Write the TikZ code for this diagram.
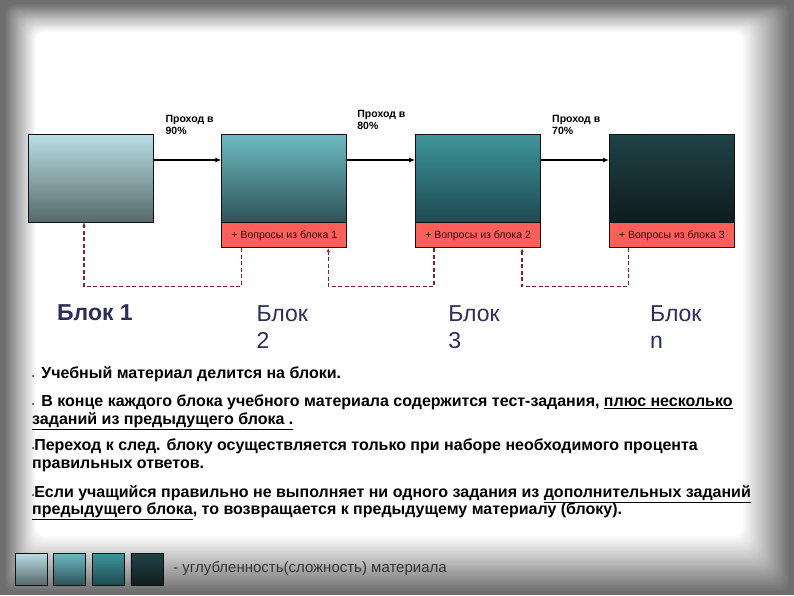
\documentclass[tikz,border=0pt]{standalone}
\usepackage{fontspec}
\setmainfont{Liberation Sans}
\usetikzlibrary{arrows.meta,positioning}
\definecolor{frame}{HTML}{6E6E6E}
\definecolor{quiz}{HTML}{FF5F58}
\definecolor{link}{HTML}{8E1C2C}
\definecolor{title}{HTML}{2B2D5C}
\definecolor{ink}{HTML}{111111}
\definecolor{lvlAtop}{HTML}{B9DFE4}
\definecolor{lvlAmid}{HTML}{A3C2C4}
\definecolor{lvlAbot}{HTML}{56696A}
\definecolor{lvlBtop}{HTML}{6DBBC3}
\definecolor{lvlBmid}{HTML}{4E8F96}
\definecolor{lvlBbot}{HTML}{2E5357}
\definecolor{lvlCtop}{HTML}{3F959D}
\definecolor{lvlCmid}{HTML}{2F7279}
\definecolor{lvlCbot}{HTML}{1D4A50}
\definecolor{lvlDtop}{HTML}{204448}
\definecolor{lvlDmid}{HTML}{183236}
\definecolor{lvlDbot}{HTML}{0F1B1D}

\begin{document}
\begin{tikzpicture}[x=1pt, y=-1pt,
    node distance=68pt,
    stage/.style={draw=ink, line width=0.8pt, minimum width=125pt, minimum height=88pt, inner sep=0pt},
    quiz/.style={draw=ink, line width=0.8pt, fill=quiz, minimum width=125pt, minimum height=25pt,
                 inner sep=0pt, font=\fontsize{10.5}{12}\selectfont, text=ink},
    pass/.style={-{Latex[length=6pt,width=5pt]}, line width=1.6pt, draw=black},
    back/.style={-{Latex[length=4pt,width=3.5pt]}, line width=1.4pt, draw=link, dash pattern=on 4pt off 2.5pt},
    rate/.style={anchor=south west, align=left, inner sep=0pt, font=\fontsize{10.5}{12}\selectfont\bfseries},
    blockname/.style={anchor=north west, align=left, inner sep=0pt, text=title, font=\fontsize{23}{27}\selectfont},
    note/.style={anchor=north west, align=left, inner sep=0pt, font=\fontsize{16}{17.5}\selectfont\bfseries},
    swatch/.style={draw=ink, line width=0.6pt, minimum width=32pt, minimum height=32pt, inner sep=0pt}
  ]

  %%%%%%%%%%%%% Frame %%%%%%%%%%%%%
  \useasboundingbox (0,0) rectangle (794,595);
  \fill[frame] (0,0) rectangle (794,595);
  \foreach \i [evaluate=\i as \pct using \i*100/30] in {0,...,30}
    \fill[white!\pct!frame, rounded corners=10pt] ({4+\i*1.05},{3+\i*0.95}) rectangle ({791-\i*1.6},{593-\i*1.9});

  %%%%%%%%%%%%% Blocks %%%%%%%%%%%%%
  \node[stage, top color=lvlAtop, middle color=lvlAmid, bottom color=lvlAbot] (s1) at (90.5,178) {};
  \node[stage, top color=lvlBtop, middle color=lvlBmid, bottom color=lvlBbot, right=of s1] (s2) {};
  \node[stage, top color=lvlCtop, middle color=lvlCmid, bottom color=lvlCbot, right=of s2] (s3) {};
  \node[stage, top color=lvlDtop, middle color=lvlDmid, bottom color=lvlDbot, right=of s3] (s4) {};

  %%%%%%%%%%%%% Questions from previous block %%%%%%%%%%%%%
  \node[quiz, below=0pt of s2] (q1) {+ Вопросы из блока 1};
  \node[quiz, below=0pt of s3] (q2) {+ Вопросы из блока 2};
  \node[quiz, below=0pt of s4] (q3) {+ Вопросы из блока 3};

  %%%%%%%%%%%%% Pass thresholds %%%%%%%%%%%%%
  \node[rate] (r1) at ([shift={(12,1)}]s1.north east) {Проход в\\90\%};
  \node[rate] (r2) at ([shift={(10,-4)}]s2.north east) {Проход в\\80\%};
  \node[rate] (r3) at ([shift={(11,1)}]s3.north east) {Проход в\\70\%};

  \draw[pass] ([yshift=18pt]s1.east) -- ([yshift=18pt]s2.west);
  \draw[pass] ([yshift=18pt]s2.east) -- ([yshift=18pt]s3.west);
  \draw[pass] ([yshift=18pt]s3.east) -- ([yshift=18pt]s4.west);

  %%%%%%%%%%%%% Return to previous block %%%%%%%%%%%%%
  \draw[back] ([xshift=-43pt]q1.south) -- ++(0,38) -| ([xshift=-6.5pt]s1.south);
  \draw[back] ([xshift=-44pt]q2.south) -- ++(0,38) -| ([xshift=44pt]q1.south);
  \draw[back] ([xshift=-43.5pt]q3.south) -- ++(0,38) -| ([xshift=44pt]q2.south);

  %%%%%%%%%%%%% Block names %%%%%%%%%%%%%
  \node[blockname, font=\fontsize{23}{27}\selectfont\bfseries] (n1) at (57,304) {Блок 1};
  \node[blockname] (n2) at ([shift={(35,57)}]q1.south west) {Блок\\2};
  \node[blockname] (n3) at ([shift={(33,57)}]q2.south west) {Блок\\3};
  \node[blockname] (n4) at ([shift={(41,57)}]q3.south west) {Блок\\n};

  %%%%%%%%%%%%% Notes %%%%%%%%%%%%%
  \node[note] (t1) at (32,366) {{\fontsize{6}{6}\selectfont\textbullet}\, Учебный материал делится на блоки.};
  \node[note] (t2) at (32,395) {{\fontsize{6}{6}\selectfont\textbullet}\, В конце каждого блока учебного материала содержится тест-задания, \underline{плюс несколько}\\\underline{заданий из предыдущего блока .}};
  \node[note] (t3) at (32,439) {{\fontsize{6}{6}\selectfont\textbullet}Переход к след. блоку осуществляется только при наборе необходимого процента\\правильных ответов.};
  \node[note] (t4) at (32,485) {{\fontsize{6}{6}\selectfont\textbullet}Если учащийся правильно не выполняет ни одного задания из \underline{дополнительных заданий}\\\underline{предыдущего блока}, то возвращается к предыдущему материалу (блоку).};

  %%%%%%%%%%%%% Legend %%%%%%%%%%%%%
  \node[swatch, top color=lvlAtop, middle color=lvlAmid, bottom color=lvlAbot] (k1) at (31,569) {};
  \node[swatch, top color=lvlBtop, middle color=lvlBmid, bottom color=lvlBbot, right=6pt of k1] (k2) {};
  \node[swatch, top color=lvlCtop, middle color=lvlCmid, bottom color=lvlCbot, right=6pt of k2] (k3) {};
  \node[swatch, top color=lvlDtop, middle color=lvlDmid, bottom color=lvlDbot, right=6pt of k3] (k4) {};
  \node[right=10pt of k4, inner sep=0pt, text=black!80, font=\fontsize{15}{17}\selectfont] (key) {- углубленность(сложность) материала};

\end{tikzpicture}
\end{document}
